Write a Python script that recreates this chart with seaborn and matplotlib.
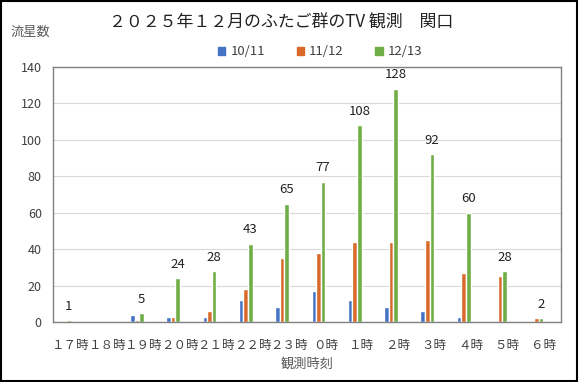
import numpy as np
import pandas as pd
import seaborn as sns
import matplotlib.pyplot as plt
from matplotlib.patches import Rectangle

# 観測時刻ごとの流星数
hours = ["１７時", "１８時", "１９時", "２０時", "２１時", "２２時", "２３時",
         "０時", "１時", "２時", "３時", "４時", "５時", "６時"]
n_1011 = [0, 0, 4, 3, 3, 12, 8, 17, 12, 8, 6, 3, 0, 0]
n_1112 = [0, 0, 1, 3, 6, 18, 35, 38, 44, 44, 45, 27, 25, 2]
n_1213 = [1, 0, 5, 24, 28, 43, 65, 77, 108, 128, 92, 60, 28, 2]
nights = ["10/11", "11/12", "12/13"]
colors = ["#4472C4", "#D9692A", "#70AD47"]

df = pd.DataFrame({"hour": hours * 3,
                   "night": np.repeat(nights, len(hours)),
                   "count": n_1011 + n_1112 + n_1213})

sns.set_style("white")
plt.rcParams['font.family'] = ['Noto Sans CJK JP', 'DejaVu Sans']

fig = plt.figure(figsize=(5.79, 3.82), dpi=100)
ax = fig.add_axes([0.0915, 0.157, 0.878, 0.668])

sns.barplot(data=df, x="hour", y="count", hue="night", palette=colors,
            width=0.38, ax=ax, legend=False, saturation=1)

# Excel風に棒のまとまりを少し左へ寄せる
shift = 0.19
for p in ax.patches:
    p.set_x(p.get_x() - shift)

# 12/13 の棒の上に数値
bw = 0.38 / 3
for i, v in enumerate(n_1213):
    if v > 0:
        ax.text(i + bw - shift, v + 4, str(v), ha="center", va="bottom",
                fontsize=9.5, color="#222222")

ax.set_ylim(0, 140)
ax.set_yticks(range(0, 141, 20))
ax.set_xlim(-0.5, len(hours) - 0.5)
ax.yaxis.grid(True, color="#D9D9D9", lw=0.8)
ax.set_axisbelow(True)
for s in ax.spines.values():
    s.set_color("#808080")
    s.set_linewidth(1)
ax.tick_params(axis="both", length=0, labelsize=9, labelcolor="#404040")
ax.tick_params(axis="x", pad=12)
ax.tick_params(axis="y", pad=8)
ax.set_xlabel("観測時刻", fontsize=9.5, color="#595959", labelpad=4)
ax.set_ylabel("")

fig.text(0.018, 0.915, "流星数", fontsize=9.5, color="#595959", va="center")
fig.text(0.485, 0.94, "２０２５年１２月のふたご群のTV 観測　関口",
         fontsize=12.2, color="#222222", ha="center", va="center")

handles = [Rectangle((0, 0), 1, 1, color=c) for c in colors]
fig.legend(handles, nights, loc="center", bbox_to_anchor=(0.553, 0.864),
           ncol=3, frameon=False, fontsize=9.5, handlelength=0.55,
           handleheight=0.55, handletextpad=0.4, columnspacing=2.4,
           labelcolor="#404040")

fig.patches.append(Rectangle((0.002, 0.003), 0.995, 0.994, transform=fig.transFigure,
                             fill=False, edgecolor="black", lw=1.5))

fig.savefig("out.png", dpi=100)
